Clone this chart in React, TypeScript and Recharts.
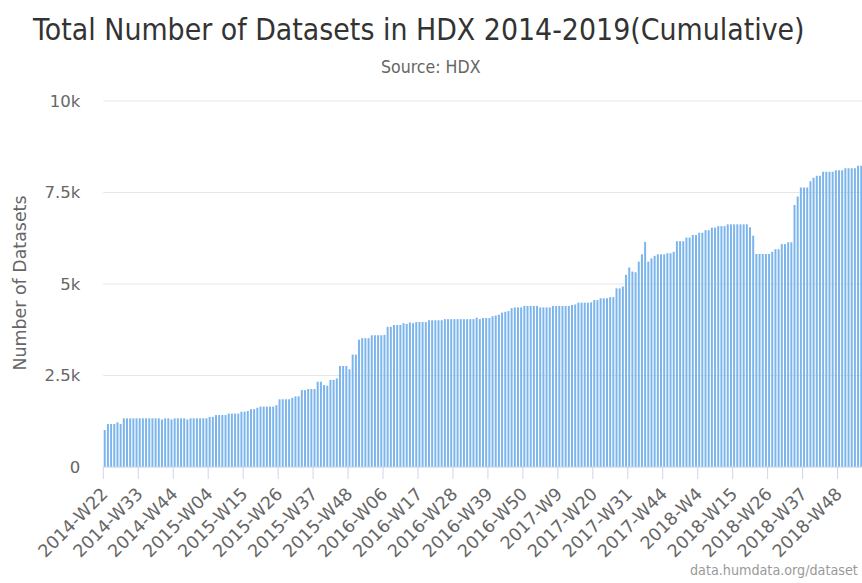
import React from "react";
import { Bar, BarChart, CartesianGrid, XAxis, YAxis } from "recharts";

// one label every 11 weeks, as on the original axis
const tickLabels = [
  "2014-W22", "2014-W33", "2014-W44", "2015-W04", "2015-W15", "2015-W26",
  "2015-W37", "2015-W48", "2016-W06", "2016-W17", "2016-W28", "2016-W39",
  "2016-W50", "2017-W9", "2017-W20", "2017-W31", "2017-W44", "2018-W4",
  "2018-W15", "2018-W26", "2018-W37", "2018-W48",
];

// cumulative dataset count per week, 11 weeks per row
const datasetTotals = [
  1010, 1175, 1175, 1175, 1220, 1175, 1330, 1330, 1330, 1330, 1330, // 2014-W22
  1330, 1330, 1330, 1330, 1330, 1330, 1330, 1300, 1330, 1330, 1300, // 2014-W33
  1330, 1330, 1330, 1330, 1300, 1330, 1330, 1330, 1330, 1330, 1330, // 2014-W44
  1370, 1370, 1420, 1420, 1420, 1420, 1460, 1460, 1460, 1460, 1510, // 2015-W04
  1510, 1530, 1580, 1580, 1620, 1650, 1650, 1650, 1650, 1650, 1690, // 2015-W15
  1850, 1850, 1850, 1850, 1890, 1930, 1930, 2100, 2100, 2130, 2130, // 2015-W26
  2130, 2330, 2330, 2240, 2220, 2380, 2380, 2420, 2760, 2760, 2760, // 2015-W37
  2670, 3070, 3070, 3480, 3520, 3520, 3520, 3600, 3600, 3600, 3600, // 2015-W48
  3610, 3830, 3830, 3880, 3880, 3880, 3930, 3910, 3950, 3930, 3960, // 2016-W06
  3960, 3960, 3960, 4010, 4010, 4010, 4010, 4010, 4040, 4040, 4040, // 2016-W17
  4040, 4040, 4040, 4040, 4040, 4040, 4040, 4080, 4040, 4070, 4070, // 2016-W28
  4070, 4120, 4140, 4160, 4220, 4240, 4260, 4340, 4360, 4360, 4360, // 2016-W39
  4400, 4400, 4400, 4400, 4400, 4360, 4360, 4360, 4360, 4400, 4400, // 2016-W50
  4400, 4400, 4400, 4400, 4430, 4440, 4490, 4490, 4490, 4490, 4500, // 2017-W9
  4560, 4560, 4610, 4610, 4610, 4640, 4640, 4880, 4880, 4930, 5250, // 2017-W20
  5450, 5340, 5320, 5610, 5810, 6150, 5610, 5700, 5770, 5810, 5810, // 2017-W31
  5810, 5840, 5840, 5880, 6170, 6170, 6170, 6270, 6270, 6340, 6340, // 2017-W44
  6400, 6400, 6470, 6470, 6540, 6540, 6580, 6580, 6580, 6630, 6630, // 2018-W4
  6630, 6630, 6630, 6630, 6630, 6550, 6320, 5820, 5820, 5820, 5820, // 2018-W15
  5820, 5880, 5950, 5950, 6090, 6090, 6140, 6140, 7160, 7390, 7640, // 2018-W26
  7640, 7640, 7810, 7900, 7960, 7960, 8070, 8070, 8070, 8070, 8110, // 2018-W37
  8110, 8110, 8160, 8160, 8160, 8160, 8230, 8230, // 2018-W48
];

const yTicks = [0, 2500, 5000, 7500, 10000];

const data = datasetTotals.map((total, idx) => ({ idx, total }));

const FONT = "DejaVu Sans, sans-serif";

function WeekTick(props: any) {
  const { x, y, payload } = props;
  const half = payload.offset || 1.59;
  const label = tickLabels[Math.round(payload.value / 11)] || "";
  const ax = x + 4;
  const ay = y + 28;
  return (
    <g>
      <line x1={x - half} x2={x - half} y1={y} y2={y + 12} stroke="#ccd6eb" />
      <text
        x={ax}
        y={ay}
        textAnchor="end"
        transform={`rotate(-45 ${ax} ${ay})`}
        fill="#666666"
        fontSize={17.5}
        fontFamily={FONT}
      >
        {label}
      </text>
    </g>
  );
}

export default function App() {
  return (
    <div
      style={{
        position: "absolute",
        left: 0,
        top: 0,
        width: 862,
        height: 583,
        overflow: "hidden",
        background: "#fff",
      }}
    >
      <BarChart
        width={864}
        height={583}
        data={data}
        margin={{ top: 101, right: 1, bottom: 0, left: 0 }}
        barCategoryGap="14%"
      >
        <CartesianGrid vertical={false} stroke="#e6e6e6" />
        <XAxis
          dataKey="idx"
          interval={10}
          height={116}
          tickLine={false}
          tickSize={0}
          tickMargin={0}
          axisLine={{ stroke: "#ccd6eb" }}
          tick={<WeekTick />}
        />
        <YAxis
          width={103.3}
          domain={[0, 10000]}
          ticks={yTicks}
          axisLine={false}
          tickLine={false}
          tickMargin={17}
          tickFormatter={(v: number) => (v === 0 ? "0" : `${v / 1000}k`)}
          tick={{ fill: "#666666", fontSize: 16.5, fontFamily: FONT }}
        />
        <Bar dataKey="total" fill="#7cb5ec" isAnimationActive={false} />
      </BarChart>
      <svg
        width={862}
        height={583}
        style={{ position: "absolute", left: 0, top: 0, pointerEvents: "none" }}
      >
        {/* narrow title: squeeze horizontally */}
        <text
          transform="translate(33 40) scale(0.896 1)"
          fontSize={30}
          fontFamily={FONT}
          fill="#333333"
        >
          Total Number of Datasets in HDX 2014-2019(Cumulative)
        </text>
        <text
          transform="translate(381 73) scale(0.93 1)"
          fontSize={17}
          fontFamily={FONT}
          fill="#666666"
        >
          Source: HDX
        </text>
        <text
          x={26}
          y={283}
          fontSize={17.5}
          fontFamily={FONT}
          fill="#666666"
          textAnchor="middle"
          textLength={175}
          lengthAdjust="spacingAndGlyphs"
          transform="rotate(-90 26 283)"
        >
          Number of Datasets
        </text>
        <text
          transform="translate(690 575) scale(0.913 1)"
          fontSize={14}
          fontFamily={FONT}
          fill="#999999"
        >
          data.humdata.org/dataset
        </text>
      </svg>
    </div>
  );
}
